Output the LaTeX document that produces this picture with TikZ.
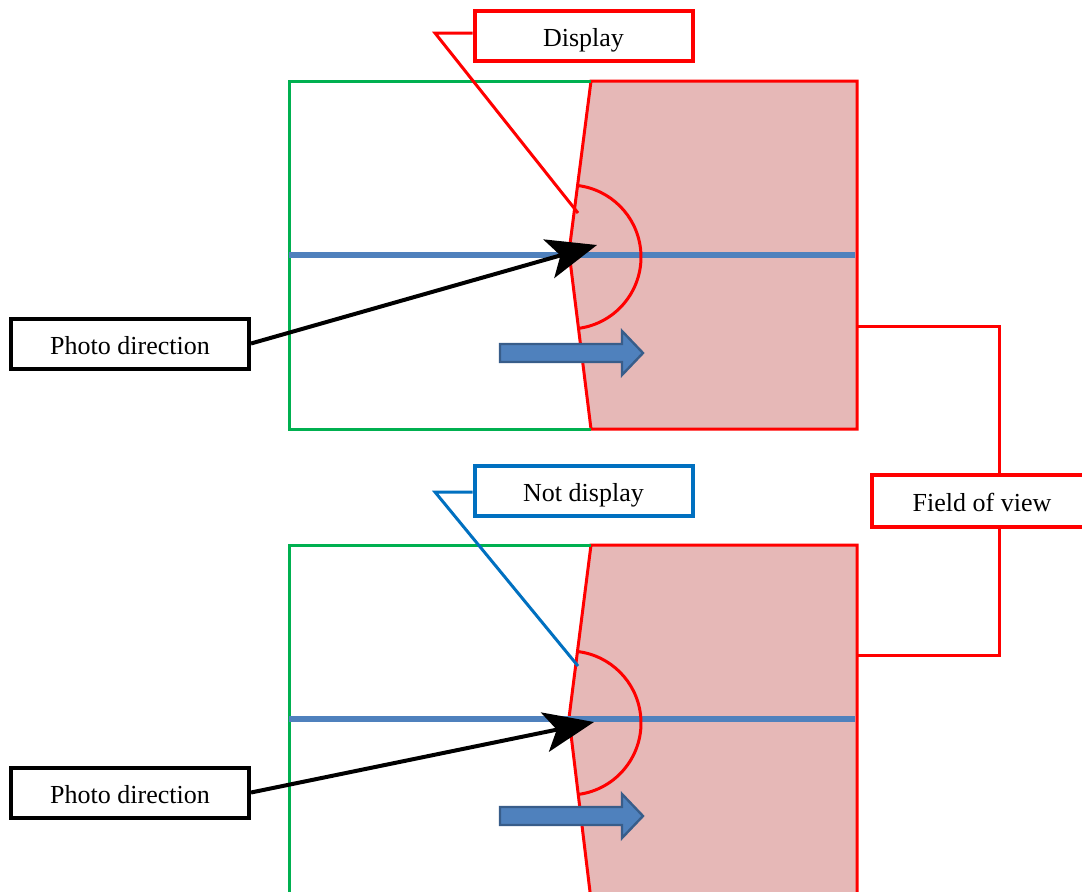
\documentclass[tikz,border=0pt]{standalone}
\usepackage{fontspec}
\setmainfont{Liberation Serif}
\usetikzlibrary{arrows.meta}

\definecolor{fovred}{RGB}{255,0,0}
\definecolor{fovpink}{RGB}{230,184,183}
\definecolor{lensgreen}{RGB}{0,176,80}
\definecolor{axisblue}{RGB}{79,129,189}
\definecolor{axisedge}{RGB}{56,93,138}
\definecolor{noteblue}{RGB}{0,112,192}

\tikzset{
    labelbox/.style={draw, line width=2pt, fill=white, inner sep=0pt,
        minimum width=109pt, minimum height=25pt,
        text height=11pt, text depth=0.5pt,
        font=\fontsize{13}{15}\selectfont},
    redline/.style={draw=fovred, line width=1.5pt},
    greenline/.style={draw=lensgreen, line width=1.5pt},
    axisline/.style={draw=axisblue, line width=3pt},
    photoarrow/.style={draw=black, line width=2pt,
        -{Stealth[length=25pt, width=20pt, inset=6pt]}},
    blockarrow/.style={fill=axisblue, draw=axisedge, line width=1.2pt, line join=miter},
}

\begin{document}
\begin{tikzpicture}[x=0.5pt, y=-0.5pt]
    \useasboundingbox (0,0) rectangle (1082,891);
    \fill[white] (0,0) rectangle (1082,891);

    % upper view
    \fill[fovpink] (591,81) -- (857,81) -- (857,429) -- (591,429) -- (569,252) -- cycle;
    \draw[redline] (591,81) -- (857,81) -- (857,429) -- (591,429) -- (569,252) -- cycle;
    \draw[greenline] (591,81) -- (289,81) -- (289,429) -- (591,429);
    \draw[axisline] (289,255) -- (855,255);
    \draw[redline] (569,257) ++(83:72) arc[start angle=83, end angle=-83, radius=72];
    \draw[blockarrow] (500,344) -- (622,344) -- (622,331) -- (643,353)
        -- (622,375) -- (622,362) -- (500,362) -- cycle;

    % lower view
    \fill[fovpink] (591,545) -- (857,545) -- (857,900) -- (592,900) -- (569,718) -- cycle;
    \draw[redline] (591,900) -- (569,718) -- (591,545) -- (857,545) -- (857,900);
    \draw[greenline] (591,545) -- (289,545) -- (289,900);
    \draw[axisline] (289,719) -- (855,719);
    \draw[redline] (569,723) ++(83:72) arc[start angle=83, end angle=-83, radius=72];
    \draw[blockarrow] (500,807) -- (622,807) -- (622,794) -- (643,816)
        -- (622,838) -- (622,825) -- (500,825) -- cycle;

    % callouts
    \node[labelbox, draw=fovred] (disp) at (583.5,36) {Display};
    \coordinate (dispknee) at (435,33);
    \coordinate (disptip) at (578,213);
    \draw[redline] (dispknee -| disp.west) -- (dispknee) -- (disptip);

    \node[labelbox, draw=noteblue] (nodisp) at (583.5,490.5) {Not display};
    \coordinate (nodispknee) at (435,492);
    \coordinate (nodisptip) at (578,666);
    \draw[draw=noteblue, line width=1.5pt] (nodispknee -| nodisp.west) -- (nodispknee) -- (nodisptip);

    \node[labelbox, minimum width=119pt] (photoA) at (130,343.5) {Photo direction};
    \coordinate (aimA) at (597,245);
    \draw[photoarrow] (photoA.east) -- (aimA);

    \node[labelbox, minimum width=119pt] (photoB) at (130,792.5) {Photo direction};
    \coordinate (aimB) at (594,722);
    \draw[photoarrow] (photoB.east) -- (aimB);

    % field of view bracket
    \node[labelbox, draw=fovred, minimum width=110pt, minimum height=26pt] (fov) at (982,501) {Field of view};
    \coordinate (fovtop) at (857,326);
    \coordinate (fovbot) at (857,655);
    \draw[redline] (fovtop) -| ([xshift=8.5pt]fov.north);
    \draw[redline] (fovbot) -| ([xshift=8.5pt]fov.south);
\end{tikzpicture}
\end{document}
